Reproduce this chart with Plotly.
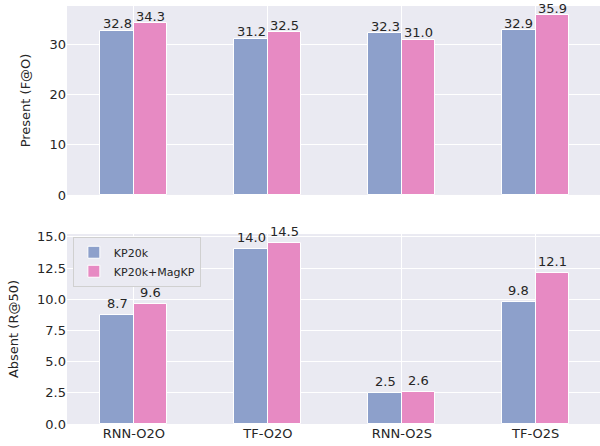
import plotly.graph_objects as go
from plotly.subplots import make_subplots

categories = ["RNN-O2O", "TF-O2O", "RNN-O2S", "TF-O2S"]
series_names = ["KP20k", "KP20k+MagKP"]
present_kp20k = [32.8, 31.2, 32.3, 32.9]
present_magkp = [34.3, 32.5, 31.0, 35.9]
absent_kp20k = [8.7, 14.0, 2.5, 9.8]
absent_magkp = [9.6, 14.5, 2.6, 12.1]

colors = ["#8da0cb", "#e78ac3"]
FONT = "DejaVu Sans"
TXT = "#262626"
BG = "#eaeaf2"

fig = make_subplots(rows=2, cols=1, shared_xaxes=False, vertical_spacing=0.09)
xpos = list(range(len(categories)))
BW = 0.25

def add(vals, name, color, offset, row, show, yshift):
    fig.add_trace(go.Bar(
        x=xpos, y=vals, name=name, width=BW, offset=offset,
        marker=dict(color=color, line=dict(color="white", width=1)),
        showlegend=show,
    ), row=row, col=1)
    for xi, v in zip(xpos, vals):
        fig.add_annotation(x=xi + offset + BW / 2, y=v, text=f"{v:.1f}", showarrow=False,
                           xanchor="center", yanchor="bottom", yshift=yshift,
                           font=dict(family=FONT, size=13, color=TXT), row=row, col=1)

add(present_kp20k, series_names[0], colors[0], -BW, 1, False, -2.5)
add(present_magkp, series_names[1], colors[1], 0.0, 1, False, -2.5)
add(absent_kp20k, series_names[0], colors[0], -BW, 2, True, 2)
add(absent_magkp, series_names[1], colors[1], 0.0, 2, True, 2)

axis_common = dict(showgrid=True, gridcolor="white", gridwidth=1, zeroline=False, automargin=False,
                   ticks="", showline=False, tickfont=dict(family=FONT, size=13, color=TXT))

fig.update_xaxes(range=[-0.5, 3.48], tickvals=xpos, ticktext=categories, **axis_common)
fig.update_xaxes(showticklabels=False, row=1, col=1)
fig.update_yaxes(**axis_common)
fig.update_yaxes(range=[0, 37.7], tickvals=[0, 10, 20, 30], row=1, col=1,
                 title=dict(text="Present (F@O)", font=dict(family=FONT, size=13, color=TXT)))
fig.update_yaxes(range=[0, 15.225], tickvals=[0, 2.5, 5, 7.5, 10, 12.5, 15], tickformat=".1f", row=2, col=1,
                 title=dict(text="Absent (R@50)", font=dict(family=FONT, size=13, color=TXT)))

fig.update_layout(
    width=600, height=446,
    margin=dict(l=67, r=0, t=6, b=22),
    paper_bgcolor="white", plot_bgcolor=BG,
    bargap=0, barmode="overlay",
    font=dict(family=FONT, size=13, color=TXT),
    yaxis=dict(domain=[0.548, 1.0]),
    yaxis2=dict(domain=[0.0, 0.4545]),
    legend=dict(x=0.011, y=0.448, xanchor="left", yanchor="top",
                bgcolor=BG, bordercolor="#d0d0d0", borderwidth=1,
                font=dict(family=FONT, size=11, color=TXT)),
)

fig.write_html("out.html", config={"displayModeBar": False},
               post_script="document.body.style.margin='0';document.body.style.overflow='hidden';")
